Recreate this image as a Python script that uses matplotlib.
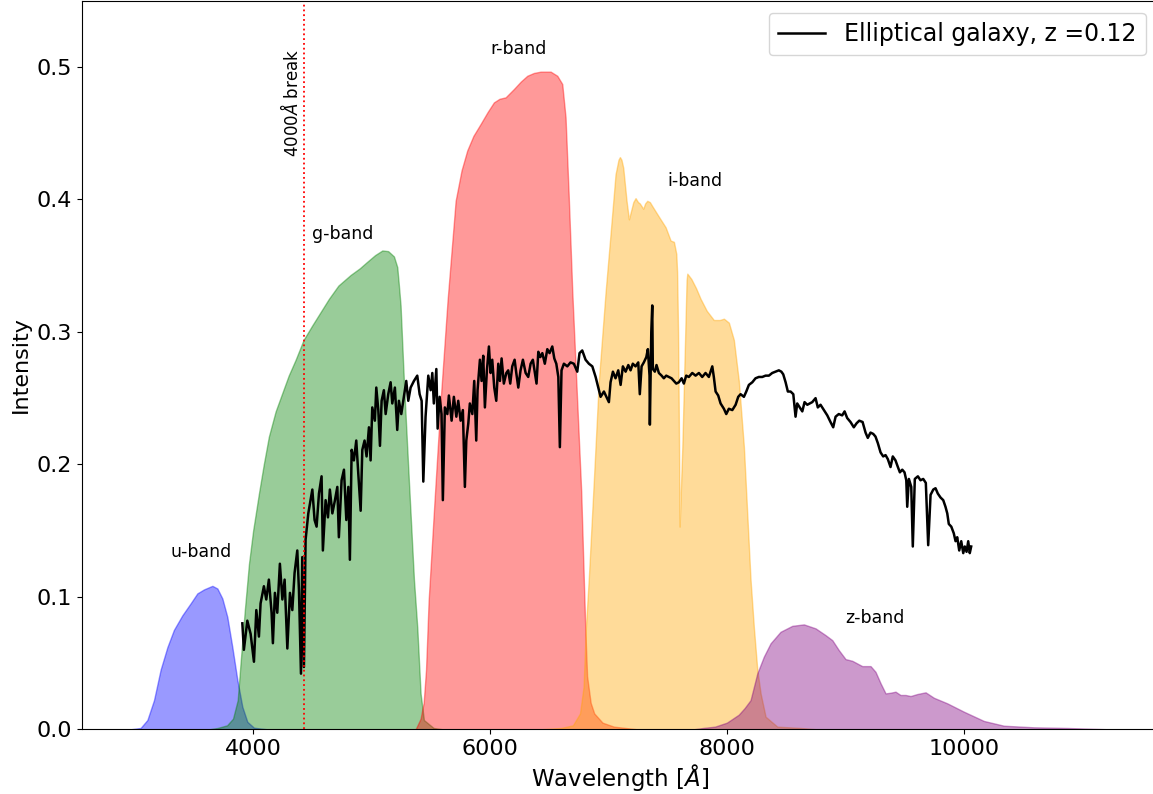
import matplotlib
matplotlib.use("Agg")
import matplotlib.pyplot as plt

# SDSS filter transmission curves (wavelength in Angstrom, relative response)
u_wave = [2966, 3050, 3107, 3163, 3219, 3276, 3331, 3402, 3472, 3529, 3585, 3656,
          3698, 3740, 3782, 3824, 3867, 3909, 3951, 4007, 4120]
u_resp = [0.0, 0.001, 0.007, 0.022, 0.045, 0.062, 0.075, 0.086, 0.095, 0.1026, 0.1056, 0.1083,
          0.1063, 0.0988, 0.0849, 0.0623, 0.0372, 0.017, 0.0057, 0.0012, 0.0]

g_wave = [3630, 3700, 3780, 3830, 3870, 3894, 3930, 3965, 4000, 4049, 4090, 4133, 4190,
          4247, 4300, 4359, 4426, 4500, 4570, 4640, 4720, 4823, 4900, 4964, 5030, 5091,
          5140, 5189, 5217, 5231, 5245, 5273, 5315, 5358, 5386, 5414, 5442, 5524, 5600]
g_resp = [0.0, 0.001, 0.003, 0.008, 0.022, 0.050, 0.090, 0.125, 0.150, 0.178, 0.200, 0.221, 0.240,
          0.254, 0.267, 0.279, 0.294, 0.305, 0.315, 0.325, 0.335, 0.343, 0.348, 0.353, 0.358, 0.3615,
          0.361, 0.357, 0.349, 0.335, 0.320, 0.263, 0.188, 0.113, 0.077, 0.027, 0.007, 0.001, 0.0]

r_wave = [5372, 5414, 5440, 5460, 5482, 5532, 5583, 5642, 5710, 5760, 5808, 5860,
          5921, 5980, 6033, 6080, 6132, 6202, 6260, 6315, 6370, 6427, 6512, 6568, 6610, 6638,
          6666, 6695, 6720, 6745, 6770, 6790, 6805, 6820, 6850, 6880, 6950, 7046, 7243]
r_resp = [0.0, 0.008, 0.02, 0.045, 0.097, 0.173, 0.248, 0.324, 0.399, 0.422, 0.437, 0.448,
          0.457, 0.466, 0.4733, 0.476, 0.4771, 0.4834, 0.489, 0.4934, 0.4955, 0.4965, 0.4965, 0.4934, 0.4872, 0.462,
          0.40, 0.33, 0.28, 0.23, 0.18, 0.12, 0.075, 0.04, 0.02, 0.012, 0.005, 0.002, 0.0]

i_wave = [6430, 6600, 6700, 6760, 6790, 6810, 6835, 6877, 6919, 6976, 7018, 7060, 7085, 7097,
          7110, 7125, 7153, 7173, 7193, 7210, 7229, 7250, 7265, 7294, 7310, 7328, 7350, 7370,
          7426, 7483, 7525, 7553, 7573, 7580, 7588, 7596, 7601, 7624, 7660, 7666, 7700, 7740,
          7778, 7830, 7890, 7940, 7975, 8017, 8059, 8101, 8144, 8172, 8200, 8228, 8257, 8285,
          8327, 8426, 8622, 8760]
i_resp = [0.0, 0.001, 0.003, 0.012, 0.032, 0.077, 0.115, 0.188, 0.263, 0.33, 0.374, 0.419, 0.43, 0.432,
          0.43, 0.424, 0.399, 0.385, 0.392, 0.398, 0.401, 0.398, 0.397, 0.393, 0.397, 0.399, 0.398, 0.395,
          0.387, 0.379, 0.369, 0.368, 0.359, 0.345, 0.30, 0.22, 0.153, 0.213, 0.339, 0.344, 0.34, 0.333,
          0.325, 0.316, 0.309, 0.309, 0.31, 0.307, 0.294, 0.263, 0.213, 0.163, 0.113, 0.077, 0.045, 0.027,
          0.0095, 0.002, 0.001, 0.0]

z_wave = [7720, 7800, 7900, 8000, 8100, 8150, 8200, 8257, 8312, 8369, 8453, 8552, 8650, 8749,
          8833, 8890, 8945, 9002, 9059, 9143, 9213, 9255, 9298, 9340, 9382, 9424, 9466, 9509,
          9551, 9607, 9678, 9748, 9861, 10001, 10170, 10339, 10592, 10874, 11225]
z_resp = [0.0, 0.001, 0.002, 0.005, 0.011, 0.016, 0.022, 0.0422, 0.0548, 0.0649, 0.0736, 0.0781, 0.0792, 0.0762,
          0.0711, 0.0673, 0.0598, 0.053, 0.0517, 0.0477, 0.0477, 0.0434, 0.0347, 0.0271, 0.0276, 0.0284, 0.0259, 0.0259,
          0.0251, 0.0266, 0.0279, 0.0238, 0.0196, 0.0133, 0.0063, 0.0027, 0.0015, 0.001, 0.0]

# Redshifted elliptical galaxy spectrum
spec_wave = [
    3909, 3922, 3951, 3979, 4007, 4027, 4049, 4063, 4091, 4111, 4133, 4156, 4167, 4184, 4204,
    4226, 4247, 4266, 4289, 4311, 4331, 4350, 4373, 4387, 4404, 4415, 4429, 4443, 4466, 4485,
    4500, 4519, 4536, 4556, 4578, 4589, 4612, 4632, 4648, 4669, 4691, 4711, 4724, 4747, 4767,
    4787, 4804, 4817, 4832, 4851, 4871, 4888, 4908, 4922, 4941, 4958, 4978, 4992, 5006, 5028,
    5040, 5057, 5071, 5085, 5104, 5119, 5141, 5161, 5175, 5197, 5217, 5231, 5251, 5273, 5293,
    5310, 5330, 5358, 5386, 5406, 5423, 5437, 5456, 5479, 5499, 5513, 5526, 5547, 5558, 5575,
    5591, 5602, 5619, 5640, 5653, 5676, 5695, 5716, 5732, 5752, 5771, 5788, 5800, 5817, 5830,
    5851, 5867, 5884, 5895, 5915, 5929, 5943, 5957, 5974, 5991, 6005, 6019, 6036, 6053, 6070,
    6084, 6098, 6117, 6138, 6154, 6171, 6188, 6208, 6222, 6239, 6258, 6278, 6301, 6323, 6343,
    6362, 6379, 6393, 6408, 6425, 6442, 6463, 6484, 6503, 6526, 6543, 6560, 6577, 6590, 6604,
    6624, 6653, 6680, 6708, 6737, 6756, 6779, 6807, 6835, 6864, 6892, 6914, 6934, 6962, 7004,
    7018, 7038, 7060, 7083, 7103, 7122, 7145, 7168, 7187, 7206, 7229, 7252, 7265, 7280, 7299,
    7320, 7333, 7347, 7350, 7362, 7370, 7375, 7392, 7406, 7426, 7449, 7468, 7488, 7510, 7533,
    7553, 7573, 7595, 7618, 7637, 7657, 7679, 7708, 7736, 7764, 7792, 7820, 7848, 7877, 7890,
    7905, 7927, 7947, 7975, 7995, 8017, 8046, 8074, 8096, 8116, 8144, 8164, 8186, 8215, 8242,
    8270, 8299, 8327, 8355, 8383, 8411, 8439, 8460, 8476, 8496, 8515, 8538, 8561, 8580, 8594,
    8616, 8637, 8656, 8679, 8701, 8721, 8749, 8768, 8791, 8819, 8848, 8875, 8898, 8918, 8945,
    8974, 8994, 9016, 9044, 9072, 9095, 9118, 9146, 9171, 9190, 9213, 9236, 9255, 9275, 9298,
    9320, 9340, 9359, 9382, 9401, 9424, 9444, 9461, 9481, 9500, 9515, 9523, 9537, 9557, 9570,
    9587, 9613, 9635, 9658, 9680, 9700, 9720, 9743, 9762, 9781, 9804, 9827, 9846, 9861, 9874,
    9895, 9916, 9931, 9945, 9962, 9979, 9996, 10009, 10024, 10038, 10051, 10063]
spec_flux = [
    0.080, 0.060, 0.082, 0.072, 0.051, 0.090, 0.070, 0.095, 0.108, 0.098, 0.113, 0.088, 0.065, 0.103, 0.088,
    0.125, 0.098, 0.113, 0.061, 0.103, 0.090, 0.118, 0.135, 0.105, 0.042, 0.130, 0.047, 0.143, 0.163, 0.173,
    0.181, 0.158, 0.153, 0.178, 0.191, 0.135, 0.173, 0.160, 0.181, 0.163, 0.173, 0.183, 0.145, 0.188, 0.196,
    0.158, 0.183, 0.128, 0.211, 0.203, 0.218, 0.193, 0.165, 0.211, 0.218, 0.206, 0.228, 0.203, 0.243, 0.233,
    0.258, 0.241, 0.214, 0.248, 0.256, 0.238, 0.253, 0.262, 0.246, 0.258, 0.226, 0.248, 0.238, 0.251, 0.263,
    0.248, 0.258, 0.263, 0.267, 0.253, 0.248, 0.187, 0.236, 0.267, 0.256, 0.269, 0.246, 0.272, 0.227, 0.251,
    0.238, 0.173, 0.243, 0.238, 0.252, 0.233, 0.251, 0.236, 0.248, 0.233, 0.241, 0.183, 0.218, 0.231, 0.246,
    0.238, 0.263, 0.218, 0.256, 0.279, 0.263, 0.282, 0.243, 0.271, 0.289, 0.269, 0.279, 0.258, 0.248, 0.276,
    0.263, 0.280, 0.261, 0.269, 0.271, 0.261, 0.274, 0.279, 0.269, 0.258, 0.271, 0.279, 0.269, 0.266, 0.276,
    0.279, 0.269, 0.261, 0.285, 0.281, 0.284, 0.276, 0.287, 0.284, 0.289, 0.280, 0.276, 0.266, 0.213, 0.271,
    0.276, 0.274, 0.277, 0.276, 0.270, 0.284, 0.286, 0.279, 0.276, 0.274, 0.266, 0.258, 0.251, 0.255, 0.247,
    0.262, 0.270, 0.265, 0.271, 0.260, 0.274, 0.270, 0.275, 0.271, 0.276, 0.274, 0.277, 0.253, 0.274, 0.277,
    0.281, 0.287, 0.267, 0.230, 0.300, 0.320, 0.272, 0.270, 0.275, 0.269, 0.267, 0.265, 0.267, 0.266, 0.265,
    0.263, 0.261, 0.262, 0.265, 0.261, 0.267, 0.266, 0.269, 0.267, 0.269, 0.266, 0.269, 0.266, 0.274, 0.266,
    0.255, 0.252, 0.246, 0.242, 0.238, 0.242, 0.241, 0.245, 0.251, 0.253, 0.251, 0.255, 0.260, 0.262, 0.265,
    0.266, 0.266, 0.267, 0.267, 0.269, 0.270, 0.271, 0.270, 0.268, 0.262, 0.255, 0.255, 0.253, 0.236, 0.246,
    0.243, 0.240, 0.247, 0.245, 0.246, 0.247, 0.250, 0.243, 0.245, 0.241, 0.237, 0.232, 0.228, 0.236, 0.238,
    0.237, 0.240, 0.235, 0.232, 0.228, 0.231, 0.233, 0.232, 0.224, 0.220, 0.224, 0.223, 0.221, 0.216, 0.209,
    0.206, 0.207, 0.204, 0.198, 0.206, 0.203, 0.198, 0.194, 0.196, 0.194, 0.188, 0.168, 0.189, 0.183, 0.138,
    0.189, 0.191, 0.188, 0.189, 0.186, 0.139, 0.177, 0.181, 0.182, 0.178, 0.175, 0.173, 0.168, 0.163, 0.155,
    0.153, 0.148, 0.142, 0.145, 0.135, 0.142, 0.133, 0.138, 0.134, 0.142, 0.133, 0.138]

band_names = ["u-band", "g-band", "r-band", "i-band", "z-band"]
band_label_x = [3300, 4500, 6000, 7500, 9000]
band_label_y = [0.13, 0.37, 0.51, 0.41, 0.08]
band_colors = ["blue", "green", "red", "orange", "purple"]

break_wave = 4430
redshift = 0.12

fig = plt.figure(figsize=(11.53, 7.94), dpi=100)
ax = fig.add_axes([0.0711, 0.0815, 0.9332, 0.9175])

bands = [(u_wave, u_resp), (g_wave, g_resp), (r_wave, r_resp), (i_wave, i_resp), (z_wave, z_resp)]
for (w, t), c in zip(bands, band_colors):
    ax.fill_between(w, t, color=c, alpha=0.4)

for name, x, y in zip(band_names, band_label_x, band_label_y):
    ax.text(x, y, name, fontsize=12.5)

ax.plot(spec_wave, spec_flux, color="black", lw=1.8,
        label="Elliptical galaxy, z =" + str(redshift))

ax.axvline(break_wave, color="red", ls=":", lw=1.3)
ax.text(break_wave - 20, 0.432, r"4000$\AA$ break", rotation=90,
        ha="right", va="bottom", fontsize=12)

ax.set_xlim(2555, 11640)
ax.set_ylim(0, 0.55)
ax.set_xticks([4000, 6000, 8000, 10000])
ax.set_yticks([0.0, 0.1, 0.2, 0.3, 0.4, 0.5])
ax.tick_params(labelsize=16)
ax.set_xlabel(r"Wavelength [$\AA$]", fontsize=16.5, labelpad=2)
ax.set_ylabel("Intensity", fontsize=16)
ax.legend(loc="upper right", fontsize=17)

fig.savefig("out.png", dpi=100)
